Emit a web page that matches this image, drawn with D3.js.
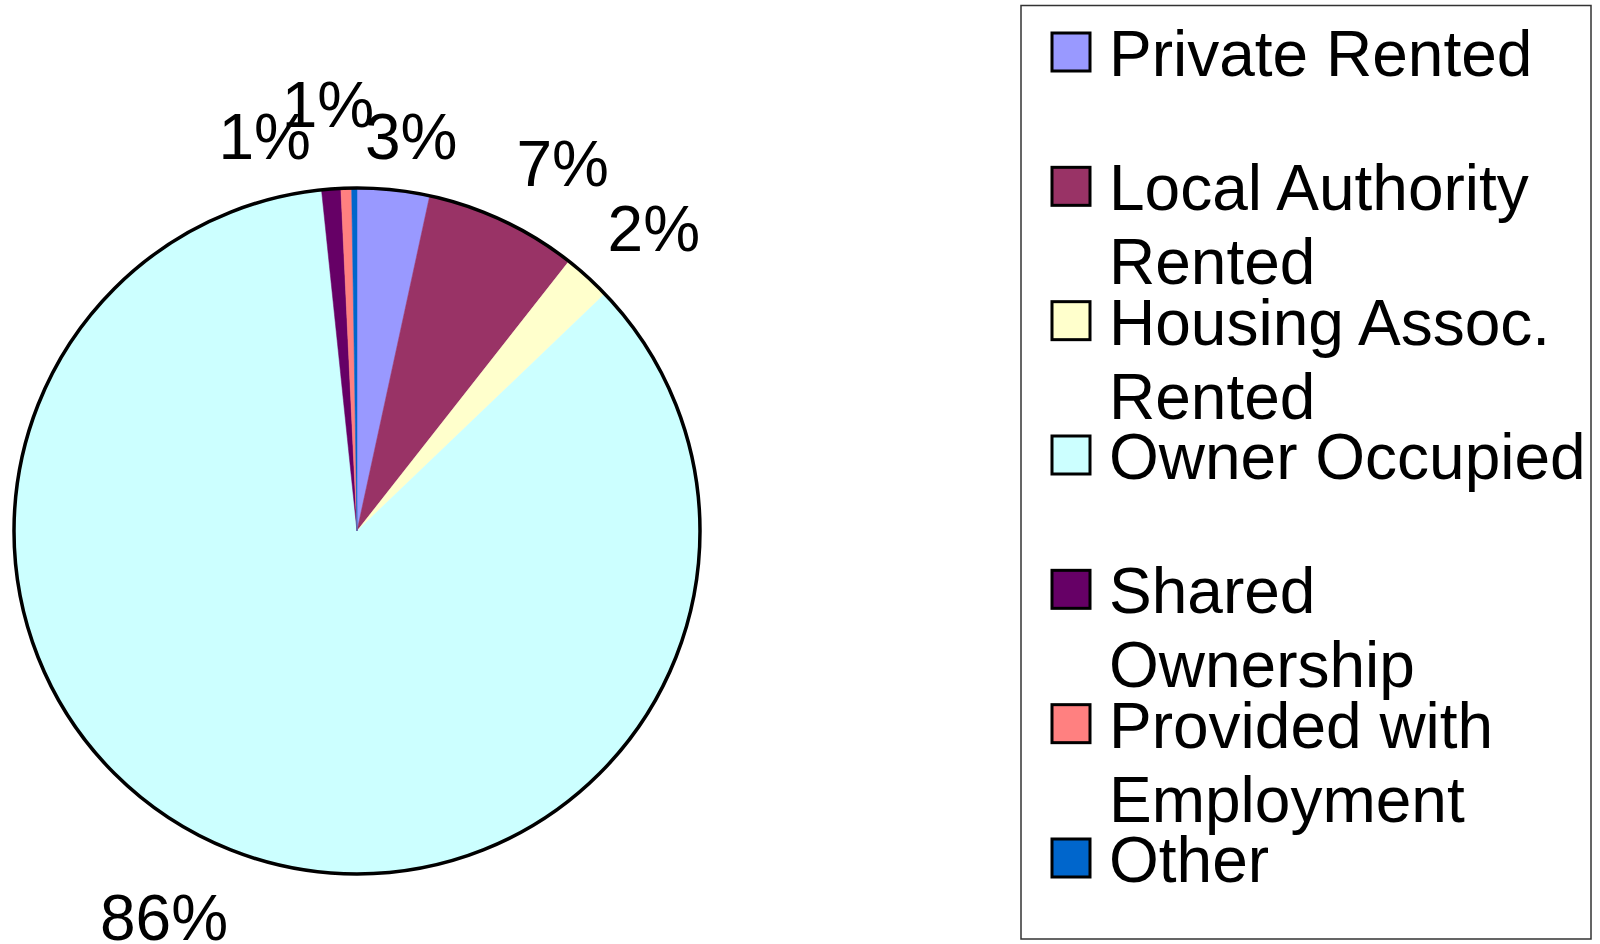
<!DOCTYPE html>
<html>
<head>
<meta charset="utf-8">
<script src="https://cdn.jsdelivr.net/npm/d3@7"></script>
<style>
	body { margin: 0; background: #fff; }
	text { font-family: "Liberation Sans", Arial, sans-serif; fill: #000; }
</style>
</head>
<body>
<script>
//tenure categories, in pie order (clockwise from 12 o'clock)
var categories = ['Private Rented', 'Local Authority Rented', 'Housing Assoc. Rented', 'Owner Occupied', 'Shared Ownership', 'Provided with Employment', 'Other'];
//share of households, percent
var shares = [3.4, 7.2, 2.25, 85.5, 0.9, 0.5, 0.25];
//data labels as printed on the chart (Other has none)
var pctLabels = ['3%', '7%', '2%', '86%', '1%', '1%', ''];
var colours = ['#9999ff', '#993366', '#ffffcc', '#ccffff', '#660066', '#ff8080', '#0066cc'];

(function(){
	var width = 1600,
		height = 944;

	var svg = d3.select("body")
		.append("svg")
		.attr("width", width)
		.attr("height", height);

	//pie geometry
	var cx = 357, cy = 531, radius = 343, labelRadius = 415;

	//label nudges, Excel shuffles the crowded ones around
	var nudge = [[10, 18], [29, 8], [18, 5], [-50, -3], [-61, 19], [-16, -12], [0, 0]];

	var pie = d3.pie()
		.sort(null)
		.value(function(d){ return d; });

	var arcs = pie(shares);

	var arc = d3.arc()
		.innerRadius(0)
		.outerRadius(radius);

	var g = svg.append("g")
		.attr("transform", "translate(" + cx + "," + cy + ")");

	g.selectAll(".slice")
		.data(arcs)
		.enter()
		.append("path")
		.attr("class", "slice")
		.attr("d", arc)
		.attr("fill", function(d, i){ return colours[i]; })
		.attr("stroke", function(d, i){ return colours[i]; })
		.attr("stroke-width", 0.5);

	//outline round the pie only
	g.append("circle")
		.attr("r", radius)
		.attr("fill", "none")
		.attr("stroke", "#000")
		.attr("stroke-width", 3.5);

	g.selectAll(".pct")
		.data(arcs)
		.enter()
		.append("text")
		.attr("class", "pct")
		.attr("x", function(d, i){
			var mid = (d.startAngle + d.endAngle) / 2;
			return Math.sin(mid) * labelRadius + nudge[i][0];
		})
		.attr("y", function(d, i){
			var mid = (d.startAngle + d.endAngle) / 2;
			return -Math.cos(mid) * labelRadius + nudge[i][1];
		})
		.attr("dy", "0.35em")
		.attr("text-anchor", "middle")
		.style("font-size", "64px")
		.text(function(d, i){ return pctLabels[i]; });

	//legend
	var legend = svg.append("g");
	legend.append("rect")
		.attr("x", 1021)
		.attr("y", 5.5)
		.attr("width", 570)
		.attr("height", 933.5)
		.attr("fill", "#fff")
		.attr("stroke", "#333")
		.attr("stroke-width", 1.5);

	var rowY = d3.scalePoint()
		.domain(categories)
		.range([76, 882]);

	var items = legend.selectAll(".item")
		.data(categories)
		.enter()
		.append("g")
		.attr("class", "item")
		.attr("transform", function(d){ return "translate(1052," + rowY(d) + ")"; });

	items.append("rect")
		.attr("x", 0)
		.attr("y", -43)
		.attr("width", 38)
		.attr("height", 38)
		.attr("fill", function(d, i){ return colours[i]; })
		.attr("stroke", "#000")
		.attr("stroke-width", 3);

	//wrap names that don't fit the box
	items.each(function(d){
		var t = d3.select(this).append("text")
			.attr("x", 57)
			.attr("y", 0)
			.style("font-size", "64px");
		var words = d.split(" "), line = [];
		var tspan = t.append("tspan").attr("x", 57).attr("dy", 0);
		words.forEach(function(w){
			line.push(w);
			tspan.text(line.join(" "));
			if (tspan.node().getComputedTextLength() > 485 && line.length > 1) {
				line.pop();
				tspan.text(line.join(" "));
				line = [w];
				tspan = t.append("tspan").attr("x", 57).attr("dy", 74).text(w);
			}
		});
	});
})();
</script>
</body>
</html>
